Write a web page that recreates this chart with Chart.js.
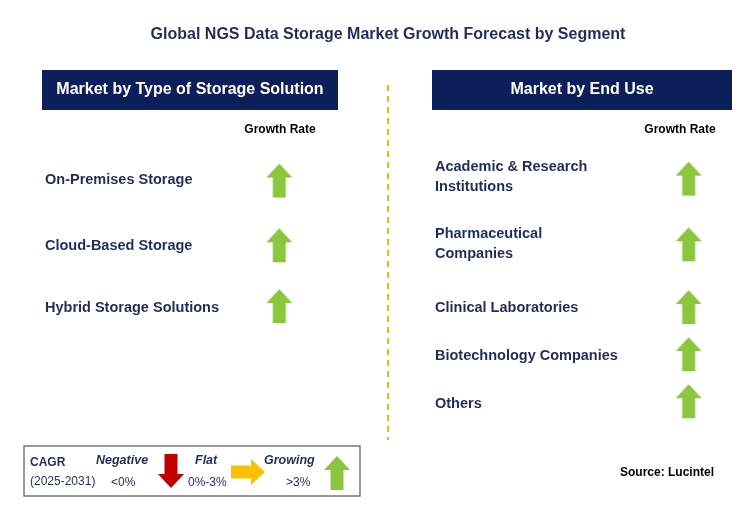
<!DOCTYPE html>
<html lang="en">
<head>
<meta charset="UTF-8">
<script src="https://cdn.jsdelivr.net/npm/chart.js@4.4.0/dist/chart.umd.min.js"></script>
<style>body{margin:0;background:#fff}</style>
</head>
<body>
<canvas id="c" width="743" height="519"></canvas>
<script>
const title = 'Global NGS Data Storage Market Growth Forecast by Segment'
const leftHeader = 'Market by Type of Storage Solution'
const rightHeader = 'Market by End Use'
const leftCategories = [['On-Premises Storage'], ['Cloud-Based Storage'], ['Hybrid Storage Solutions']]
const rightCategories = [['Academic & Research', 'Institutions'], ['Pharmaceutical', 'Companies'], ['Clinical Laboratories'], ['Biotechnology Companies'], ['Others']]
const leftTrend = ['up', 'up', 'up']
const rightTrend = ['up', 'up', 'up', 'up', 'up']
const leftRows = [179, 245, 307]
const rightRows = [177, 244, 308, 356, 404]

const NAVY = '#1f2d5c', GREEN = '#8cc63f', RED = '#c00000', YELLOW = '#ffc000'

function arrow(ctx, x, y, dir, color) {
  // arrow centred at x,y
  ctx.save(); ctx.translate(x, y)
  if (dir === 'down') ctx.rotate(Math.PI)
  if (dir === 'right') ctx.rotate(Math.PI / 2)
  ctx.fillStyle = color
  ctx.beginPath()
  ctx.moveTo(0, -17); ctx.lineTo(13, -3); ctx.lineTo(6.5, -3); ctx.lineTo(6.5, 17)
  ctx.lineTo(-6.5, 17); ctx.lineTo(-6.5, -3); ctx.lineTo(-13, -3); ctx.closePath(); ctx.fill()
  ctx.restore()
}
function arrowImage(dir) {
  const c = document.createElement('canvas'); c.width = 28; c.height = 36
  const col = dir === 'up' ? GREEN : dir === 'down' ? RED : YELLOW
  arrow(c.getContext('2d'), 14, 18, dir, col)
  return c
}

const layout = {
  id: 'layout',
  beforeDatasetsDraw(chart) {
    const ctx = chart.ctx
    ctx.save()
    ctx.fillStyle = NAVY; ctx.textBaseline = 'middle'
    ctx.font = 'bold 16px Arial, "Liberation Sans"'; ctx.textAlign = 'center'
    ctx.fillText(title, 388, 35)
    ctx.fillStyle = '#0c1f5b'
    ctx.fillRect(42, 70, 296, 40); ctx.fillRect(432, 70, 300, 40)
    ctx.fillStyle = '#fff'; ctx.font = 'bold 16px Arial, "Liberation Sans"'
    ctx.fillText(leftHeader, 190, 90); ctx.fillText(rightHeader, 582, 90)
    ctx.fillStyle = '#000'; ctx.font = 'bold 12px Arial, "Liberation Sans"'
    ctx.fillText('Growth Rate', 280, 130); ctx.fillText('Growth Rate', 680, 130)
    ctx.fillStyle = NAVY; ctx.font = 'bold 14.5px Arial, "Liberation Sans"'; ctx.textAlign = 'left'
    leftCategories.forEach((l, i) => l.forEach((t, j) => ctx.fillText(t, 45, leftRows[i] + 1 + (j - (l.length - 1) / 2) * 20)))
    rightCategories.forEach((l, i) => l.forEach((t, j) => ctx.fillText(t, 435, rightRows[i] + (j - (l.length - 1) / 2) * 20)))
    // divider
    ctx.strokeStyle = '#f5b800'; ctx.lineWidth = 2; ctx.setLineDash([6, 5])
    ctx.beginPath(); ctx.moveTo(388, 85); ctx.lineTo(388, 440); ctx.stroke(); ctx.setLineDash([])
    // legend
    ctx.strokeStyle = '#777'; ctx.lineWidth = 1.5; ctx.strokeRect(24, 446, 336, 50)
    ctx.fillStyle = NAVY; ctx.font = 'bold 12px Arial, "Liberation Sans"'
    ctx.fillText('CAGR', 30, 463)
    ctx.font = '12px Arial, "Liberation Sans"'; ctx.fillText('(2025-2031)', 30, 482)
    ctx.font = 'italic bold 12.5px Arial, "Liberation Sans"'
    ctx.fillText('Negative', 96, 461); ctx.fillText('Flat', 195, 461); ctx.fillText('Growing', 264, 461)
    ctx.font = '12px Arial, "Liberation Sans"'
    ctx.fillText('<0%', 111, 483); ctx.fillText('0%-3%', 188, 483); ctx.fillText('>3%', 286, 483)
    arrow(ctx, 171, 471, 'down', RED); arrow(ctx, 248, 472, 'right', YELLOW); arrow(ctx, 337, 473, 'up', GREEN)
    ctx.font = 'bold 12px Arial, "Liberation Sans"'; ctx.fillStyle = '#000'
    ctx.fillText('Source: Lucintel', 620, 473)
    ctx.restore()
  }
}

new Chart(document.getElementById('c'), {
  type: 'scatter',
  data: {
    datasets: [
      { data: leftRows.map(y => ({ x: 278, y })), pointStyle: leftTrend.map(arrowImage) },
      { data: rightRows.map(y => ({ x: 693, y })), pointStyle: rightTrend.map(arrowImage) }
    ]
  },
  options: {
    responsive: false, animation: false, devicePixelRatio: 1,
    layout: { padding: 0 },
    scales: {
      x: { display: false, min: 0, max: 743 },
      y: { display: false, min: 0, max: 519, reverse: true }
    },
    plugins: { legend: { display: false }, tooltip: { enabled: false } }
  },
  plugins: [layout]
})
</script>
</body>
</html>
